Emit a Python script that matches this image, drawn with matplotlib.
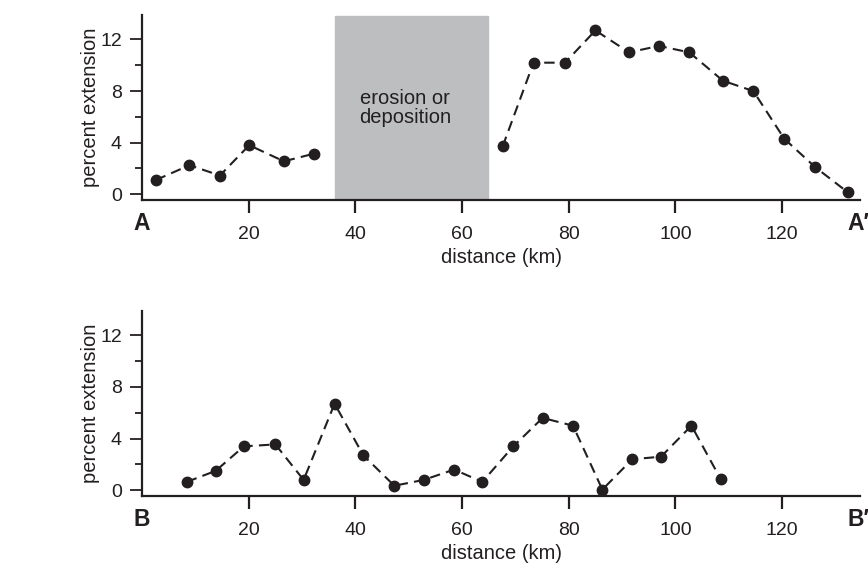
"""
Perfis de extensão percentual ao longo de A-A' e B-B'
"""
import matplotlib.pyplot as plt
from matplotlib.ticker import MultipleLocator

plt.rcParams['font.family'] = ['Liberation Sans', 'DejaVu Sans']

# perfil A-A' (dois trechos separados pela zona de erosão)
dist_a1 = [2.6, 8.9, 14.6, 20.1, 26.6, 32.3]
ext_a1 = [1.1, 2.25, 1.45, 3.8, 2.55, 3.15]
dist_a2 = [67.6, 73.4, 79.3, 85.0, 91.3, 96.9, 102.6, 108.9, 114.6, 120.4, 126.2, 132.3]
ext_a2 = [3.7, 10.2, 10.2, 12.7, 11.0, 11.5, 11.0, 8.8, 8.0, 4.3, 2.1, 0.15]
erosao = (36.2, 64.8)

# perfil B-B'
dist_b = [8.4, 13.8, 19.1, 25.0, 30.3, 36.1, 41.5, 47.3, 52.8, 58.5, 63.8,
          69.6, 75.1, 80.8, 86.3, 91.9, 97.3, 103.0, 108.5]
ext_b = [0.65, 1.5, 3.4, 3.55, 0.8, 6.7, 2.7, 0.35, 0.8, 1.6, 0.65,
         3.4, 5.6, 5.0, 0.05, 2.4, 2.6, 5.0, 0.85]

preto = '#231f20'
estilo = dict(color=preto, linestyle=(0, (5, 3)), linewidth=1.5,
              marker='o', markersize=7.5, clip_on=False)

fig = plt.figure(figsize=(8.68, 5.65), dpi=100)
ax_a = fig.add_axes([0.1636, 0.646, 0.8272, 0.3275])
ax_b = fig.add_axes([0.1636, 0.122, 0.8272, 0.328])


def formata(ax, ini, fim):
    ax.set_xlim(0, 134.6)
    ax.set_ylim(-0.45, 13.9)
    for lado in ['top', 'right']:
        ax.spines[lado].set_visible(False)
    for lado in ['left', 'bottom']:
        ax.spines[lado].set_linewidth(1.6)
        ax.spines[lado].set_color(preto)
    ax.set_xticks([20, 40, 60, 80, 100, 120])
    ax.yaxis.set_major_locator(MultipleLocator(4))
    ax.yaxis.set_minor_locator(MultipleLocator(2))
    ax.tick_params(axis='x', which='major', length=9.5, width=1.6, pad=9,
                   labelsize=14, colors=preto)
    ax.tick_params(axis='y', which='major', length=8.5, width=1.3, pad=6,
                   labelsize=14, colors=preto)
    ax.tick_params(axis='y', which='minor', length=5, width=1.3, colors=preto)
    ax.set_xlabel("distance (km)", fontsize=14.5, color=preto, labelpad=4)
    ax.set_ylabel("percent extension", fontsize=14.5, color=preto, labelpad=0)
    ax.text(0, -2.3, ini, fontsize=16.5, fontweight='bold', ha='center',
            va='center', color=preto, clip_on=False)
    ax.text(132.3, -2.3, fim, fontsize=16.5, fontweight='bold', ha='left',
            va='center', color=preto, clip_on=False)


formata(ax_a, "A", "A\u2032")
ax_a.axvspan(erosao[0], erosao[1], ymin=0, ymax=0.995, color='#bcbec0', zorder=0)
ax_a.text(sum(erosao) / 2 - 1.2, 6.7, "erosion or\ndeposition", fontsize=14.5,
          ha='center', va='center', color=preto, linespacing=1.0)
ax_a.plot(dist_a1, ext_a1, **estilo)
ax_a.plot(dist_a2, ext_a2, **estilo)

formata(ax_b, "B", "B\u2032")
ax_b.plot(dist_b, ext_b, **estilo)

plt.savefig("out.png", dpi=100)
